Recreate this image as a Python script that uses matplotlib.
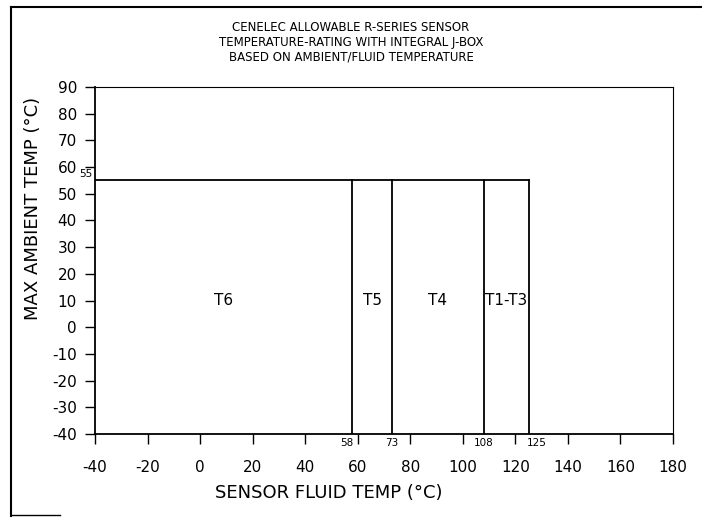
import matplotlib.pyplot as plt
from matplotlib.lines import Line2D

plt.rcParams['axes.unicode_minus'] = False

# Temperature class boundaries (sensor fluid temp, deg C)
bounds = [58, 73, 108, 125]
classes = ['T6', 'T5', 'T4', 'T1-T3']
x_start = -40
max_ambient = 55
y_min = -40

x_ticks = list(range(-40, 181, 20))
y_ticks = list(range(-40, 91, 10))

title = ('CENELEC ALLOWABLE R-SERIES SENSOR\n'
         'TEMPERATURE-RATING WITH INTEGRAL J-BOX\n'
         'BASED ON AMBIENT/FLUID TEMPERATURE')

fig = plt.figure(figsize=(7.02, 5.17), dpi=100)
ax = fig.add_axes([95 / 702, 83 / 517, 578 / 702, 347 / 517])
ax.set_xlim(-40, 180)
ax.set_ylim(-40, 90)

# region outlines
edges = [x_start] + bounds
ax.plot([x_start, bounds[-1]], [max_ambient, max_ambient], color='black', lw=1.3)
for b in bounds:
    ax.plot([b, b], [y_min, max_ambient], color='black', lw=1.3)

# region labels
for i, name in enumerate(classes):
    ax.text((edges[i] + edges[i + 1]) / 2, 10, name, ha='center', va='center', fontsize=11)

# small boundary labels under the axis
for b in bounds:
    off = -2 if b == 58 else (3 if b == 125 else 0)
    ax.text(b + off, -41.5, str(b), ha='center', va='top', fontsize=7.5)
ax.text(-41, 55.5, '55', ha='right', va='bottom', fontsize=7.5)

ax.set_xticks(x_ticks)
ax.set_yticks(y_ticks)
ax.tick_params(direction='out', length=7, width=1, labelsize=11, colors='black')
ax.tick_params(axis='x', pad=12)
ax.tick_params(axis='y', pad=6)
for s in ['left', 'bottom']:
    ax.spines[s].set_linewidth(1.3)
for s in ['top', 'right']:
    ax.spines[s].set_linewidth(0.8)
    ax.spines[s].set_linestyle((0, (6, 1)))

ax.set_xlabel('SENSOR FLUID TEMP (°C)', fontsize=13)
ax.xaxis.set_label_coords(0.405, -0.145)
ax.set_ylabel('MAX AMBIENT TEMP (°C)', fontsize=13)
ax.yaxis.set_label_coords(-0.092, 0.65)

fig.text(0.5, 0.96, title, ha='center', va='top', fontsize=8.5, linespacing=1.2)

# outer frame
fig.add_artist(Line2D([11 / 702, 11 / 702], [0, 1 - 7 / 517], color='black', lw=1.5, transform=fig.transFigure))
fig.add_artist(Line2D([11 / 702, 1], [1 - 7 / 517, 1 - 7 / 517], color='black', lw=1.5, transform=fig.transFigure))
fig.add_artist(Line2D([11 / 702, 60 / 702], [2 / 517, 2 / 517], color='black', lw=1.0, transform=fig.transFigure))

fig.savefig('out.png', dpi=100)
